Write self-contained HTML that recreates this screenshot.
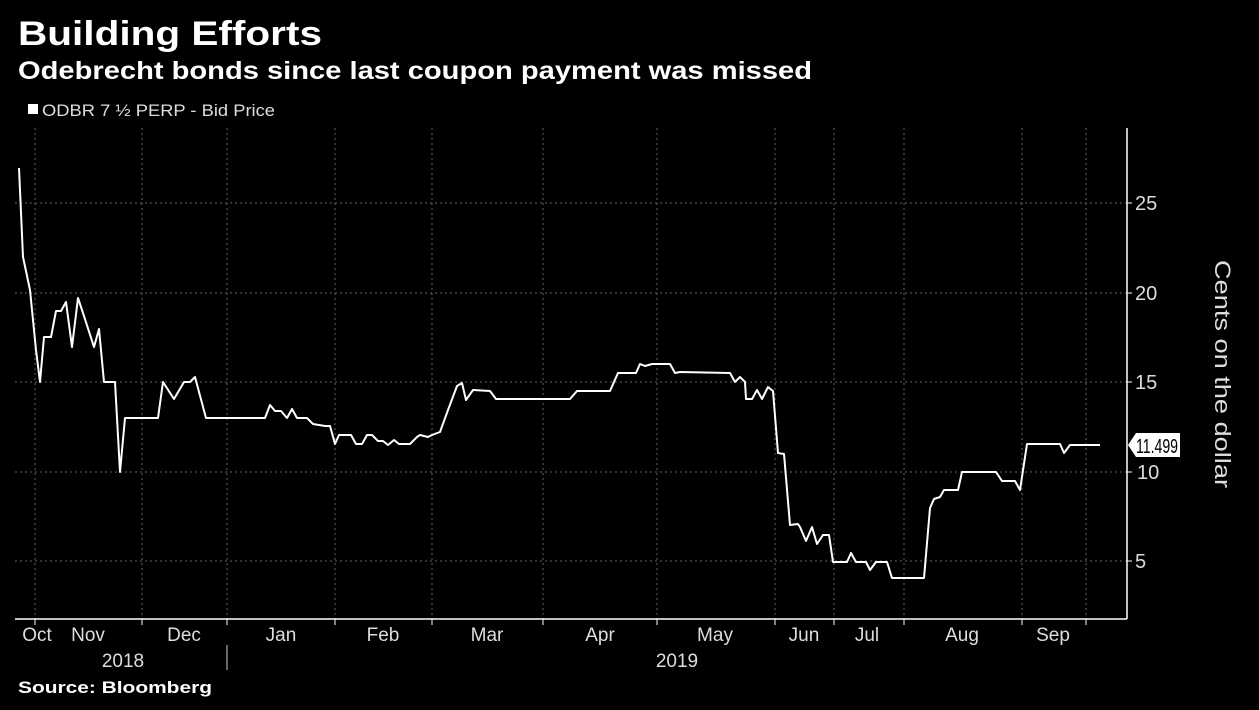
<!DOCTYPE html>
<html><head><meta charset="utf-8"><style>
body{margin:0;background:#000;width:1259px;height:705px;overflow:hidden;font-family:"Liberation Sans",sans-serif;color:#fff}
</style></head><body>
<svg width="1259" height="705" xmlns="http://www.w3.org/2000/svg">
<rect width="1259" height="705" fill="#000"/>
<text x="18" y="45" font-size="34" font-weight="bold" fill="#fff" font-family="Liberation Sans" textLength="304" lengthAdjust="spacingAndGlyphs">Building Efforts</text>
<text x="18" y="79" font-size="25" font-weight="bold" fill="#fff" font-family="Liberation Sans" textLength="794" lengthAdjust="spacingAndGlyphs">Odebrecht bonds since last coupon payment was missed</text>
<rect x="28" y="104" width="10" height="10" fill="#fff"/>
<text x="42" y="116" font-size="17" fill="#ddd" font-family="Liberation Sans" textLength="233" lengthAdjust="spacingAndGlyphs">ODBR 7 ½ PERP - Bid Price</text>
<g stroke="#666" stroke-dasharray="2,3" stroke-width="1">
<line x1="15" x2="1127" y1="203" y2="203"/><line x1="15" x2="1127" y1="293" y2="293"/>
<line x1="15" x2="1127" y1="382" y2="382"/><line x1="15" x2="1127" y1="472" y2="472"/>
<line x1="15" x2="1127" y1="561" y2="561"/>
<line x1="35" x2="35" y1="128" y2="619"/><line x1="142" x2="142" y1="128" y2="619"/>
<line x1="227" x2="227" y1="128" y2="619"/><line x1="335" x2="335" y1="128" y2="619"/>
<line x1="432" x2="432" y1="128" y2="619"/><line x1="543" x2="543" y1="128" y2="619"/>
<line x1="657" x2="657" y1="128" y2="619"/><line x1="775" x2="775" y1="128" y2="619"/>
<line x1="834" x2="834" y1="128" y2="619"/><line x1="904" x2="904" y1="128" y2="619"/>
<line x1="1022" x2="1022" y1="128" y2="619"/><line x1="1086" x2="1086" y1="128" y2="619"/>
</g>
<g stroke="#fff" stroke-width="1.5" fill="none">
<line x1="15" x2="1127" y1="619" y2="619"/><line x1="1127" x2="1127" y1="128" y2="619"/>
<line x1="227" x2="227" y1="645" y2="670" stroke="#888"/>
</g>
<g stroke="#fff" stroke-width="1">
<line x1="35" x2="35" y1="619" y2="625"/><line x1="142" x2="142" y1="619" y2="625"/><line x1="227" x2="227" y1="619" y2="625"/><line x1="335" x2="335" y1="619" y2="625"/><line x1="432" x2="432" y1="619" y2="625"/><line x1="543" x2="543" y1="619" y2="625"/><line x1="657" x2="657" y1="619" y2="625"/><line x1="775" x2="775" y1="619" y2="625"/><line x1="834" x2="834" y1="619" y2="625"/><line x1="904" x2="904" y1="619" y2="625"/><line x1="1022" x2="1022" y1="619" y2="625"/><line x1="1086" x2="1086" y1="619" y2="625"/>
<line x1="1127" x2="1132" y1="203" y2="203"/><line x1="1127" x2="1132" y1="293" y2="293"/><line x1="1127" x2="1132" y1="382" y2="382"/><line x1="1127" x2="1132" y1="472" y2="472"/><line x1="1127" x2="1132" y1="561" y2="561"/>
</g>
<g fill="#ddd" font-size="20" font-family="Liberation Sans">
<text x="1135" y="210">25</text><text x="1135" y="300">20</text><text x="1135" y="389">15</text><text x="1137" y="479">10</text><text x="1135" y="568">5</text>
</g>
<g fill="#ddd" font-size="19" font-family="Liberation Sans" text-anchor="middle">
<text x="37" y="641">Oct</text><text x="88" y="641">Nov</text><text x="184" y="641">Dec</text><text x="281" y="641">Jan</text><text x="383" y="641">Feb</text><text x="487" y="641">Mar</text><text x="600" y="641">Apr</text><text x="715" y="641">May</text><text x="804" y="641">Jun</text><text x="867" y="641">Jul</text><text x="962" y="641">Aug</text><text x="1053" y="641">Sep</text>
<text x="123" y="667">2018</text><text x="677" y="667">2019</text>
</g>
<text transform="translate(1215,374) rotate(90)" text-anchor="middle" font-size="22" fill="#ddd" font-family="Liberation Sans" textLength="228" lengthAdjust="spacingAndGlyphs">Cents on the dollar</text>
<polyline fill="none" stroke="#fff" stroke-width="2" stroke-linejoin="round" points="19,168 23,257 30,290 36,350 40,382 44,337 51,337 56,311 61,311 66,302 72,347 78,298 83,313 94,347 99,329 104,382 115,382 120,472 125,418 158,418 163,382 174,399 184,382 190,382 195,377 206,418 265,418 270,405 275,411 281,411 287,418 292,409 297,418 307,418 313,424 325,426 330,426 335,444 339,435 351,435 356,444 362,444 367,435 372,435 378,441 383,441 388,445 394,440 399,444 410,444 417,437 420,435 428,437 432,435 440,432 448,410 457,386 462,383 466,400 473,390 490,391 496,399 570,399 577,391 610,391 618,373 636,373 640,364 645,366 652,364 670,364 675,373 680,372 730,373 735,382 740,377 745,382 746,399 752,399 757,390 762,399 768,387 773,391 778,453 784,454 790,525 798,524 800,527 806,541 812,527 817,544 823,535 829,535 833,562 847,562 851,553 856,562 866,562 870,570 876,562 887,562 892,578 924,578 930,508 934,499 940,497 944,490 958,490 962,472 996,472 1002,481 1015,481 1020,490 1027,444 1060,444 1064,453 1070,445 1100,445"/>
<polygon points="1128,445 1136,433 1180,433 1180,457 1136,457" fill="#fff"/>
<text x="1136" y="453" font-size="20" fill="#000" font-family="Liberation Sans" textLength="42" lengthAdjust="spacingAndGlyphs">11.499</text>
<text x="18" y="693" font-size="17" font-weight="bold" fill="#fff" font-family="Liberation Sans" textLength="194" lengthAdjust="spacingAndGlyphs">Source: Bloomberg</text>
</svg>
</body></html>
